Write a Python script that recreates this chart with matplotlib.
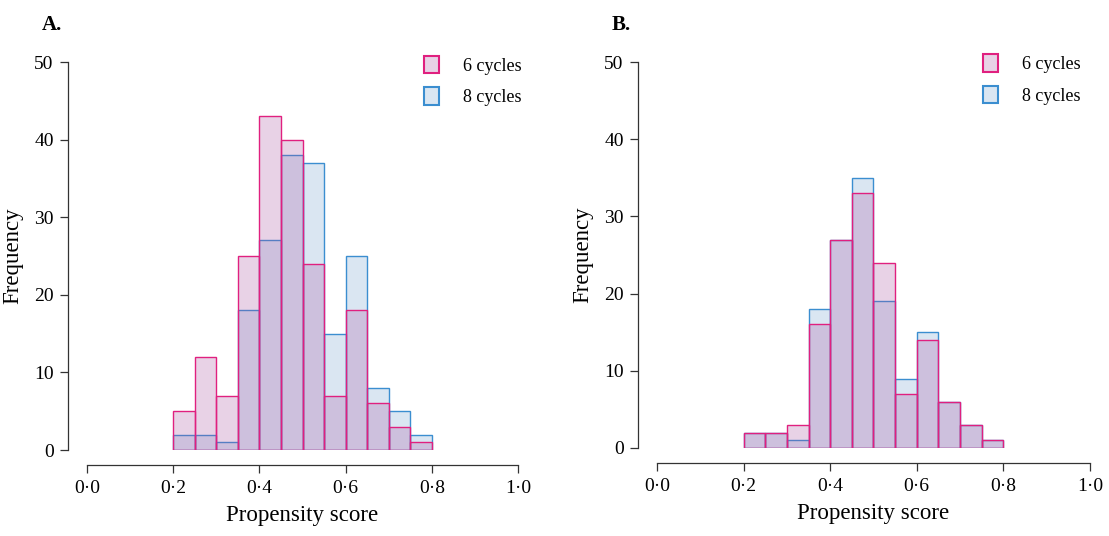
import matplotlib.pyplot as plt
import numpy as np
from matplotlib.patches import Patch

plt.rcParams['font.family'] = ['Liberation Serif', 'DejaVu Serif']

# histogram bins: 0.20 to 0.80 in steps of 0.05
bin_edges = np.round(np.arange(0.20, 0.8001, 0.05), 2)

# panel A counts per bin
a_6cycles = [5, 12, 7, 25, 43, 40, 24, 7, 18, 6, 3, 1]
a_8cycles = [2, 2, 1, 18, 27, 38, 37, 15, 25, 8, 5, 2]

# panel B counts per bin
b_6cycles = [2, 2, 3, 16, 27, 33, 24, 7, 14, 6, 3, 1]
b_8cycles = [2, 2, 1, 18, 27, 35, 19, 9, 15, 6, 3, 1]

x_ticks = [0.0, 0.2, 0.4, 0.6, 0.8, 1.0]
x_ticklabels = ['0·0', '0·2', '0·4', '0·6', '0·8', '1·0']
y_ticks = [0, 10, 20, 30, 40, 50]

pink_face = (167/255, 79/255, 159/255, 0.25)
blue_face = (70/255, 130/255, 190/255, 0.20)
pink_edge = '#e0207f'
blue_edge = '#3b8ed0'

fig = plt.figure(figsize=(11.09, 5.36), dpi=100)
ax_a = fig.add_axes([0.0785, 0.1604, 0.3886, 0.7239])
ax_b = fig.add_axes([0.5924, 0.1642, 0.3904, 0.7200])


def draw_panel(ax, six, eight, letter, legend_anchor):
    lefts = bin_edges[:-1]
    w = 0.05
    ax.bar(lefts, eight, width=w, align='edge', color=blue_face,
           edgecolor=blue_edge, linewidth=1.0)
    ax.bar(lefts, six, width=w, align='edge', color=pink_face,
           edgecolor=pink_edge, linewidth=1.0)
    ax.set_xlim(0, 1)
    ax.set_ylim(0, 50)
    for s in ['top', 'right']:
        ax.spines[s].set_visible(False)
    # R-style detached axes
    ax.spines['left'].set_position(('outward', 13.5))
    ax.spines['bottom'].set_position(('outward', 11))
    ax.spines['left'].set_bounds(0, 50)
    ax.spines['bottom'].set_bounds(0, 1)
    for s in ['left', 'bottom']:
        ax.spines[s].set_color('#333333')
        ax.spines[s].set_linewidth(0.9)
    ax.set_xticks(x_ticks)
    ax.set_xticklabels(x_ticklabels)
    ax.set_yticks(y_ticks)
    ax.tick_params(labelsize=14, length=5.5, width=0.9, color='#333333', pad=5)
    ax.set_xlabel('Propensity score', fontsize=16.5, labelpad=6)
    ax.set_ylabel('Frequency', fontsize=16.5, labelpad=8)
    ax.text(-0.105, 1.095, letter, transform=ax.transAxes, fontsize=15,
            fontweight='bold', ha='left', va='center')
    handles = [Patch(facecolor=pink_face, edgecolor=pink_edge, linewidth=1.5, label='6 cycles'),
               Patch(facecolor=blue_face, edgecolor=blue_edge, linewidth=1.5, label='8 cycles')]
    ax.legend(handles=handles, loc='upper right', bbox_to_anchor=legend_anchor,
              frameon=False, fontsize=13, handlelength=0.85, handleheight=1.1,
              handletextpad=1.3, labelspacing=0.7)


draw_panel(ax_a, a_6cycles, a_8cycles, 'A.', (1.045, 1.058))
draw_panel(ax_b, b_6cycles, b_8cycles, 'B.', (1.015, 1.062))

fig.savefig('out.png', dpi=100)
